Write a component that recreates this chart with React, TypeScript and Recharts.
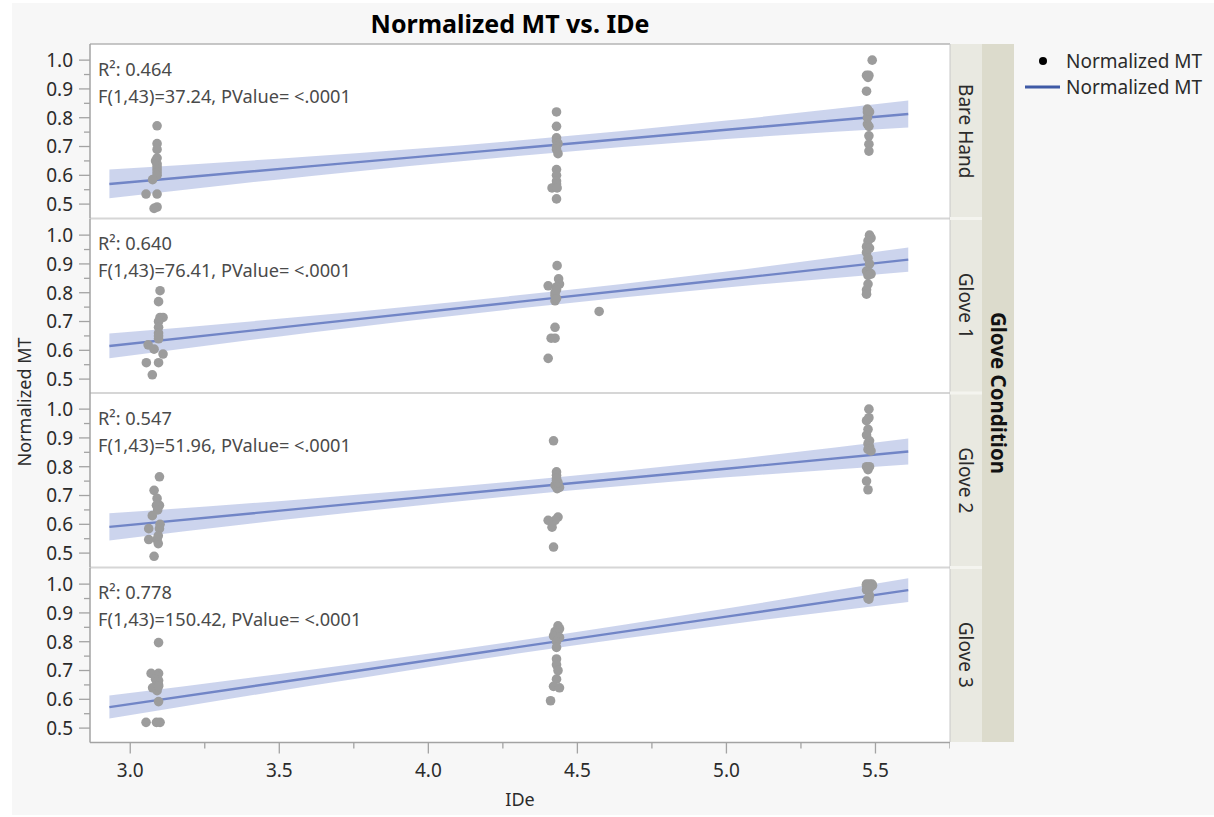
import { ComposedChart, Scatter, Line, Area, XAxis, YAxis } from "recharts";

// panel names and fit statistics
const panels = ["Bare Hand", "Glove 1", "Glove 2", "Glove 3"];
const r2Values = ["0.464", "0.640", "0.547", "0.778"];
const fValues = ["37.24", "76.41", "51.96", "150.42"];

const xMajorTicks = [3.0, 3.5, 4.0, 4.5, 5.0, 5.5];
const xMinorTicks = [3.25, 3.75, 4.25, 4.75, 5.25, 5.75];
const yMajorTicks = [0.5, 0.6, 0.7, 0.8, 0.9, 1.0];
const yMinorTicks = [0.55, 0.65, 0.75, 0.85, 0.95];

// fitted line + confidence band
const fitX = [2.93, 3.6, 4.3, 5.0, 5.61];
const bareHandFit = [0.57, 0.631, 0.694, 0.758, 0.813];
const bareHandLo = [0.52, 0.597, 0.667, 0.726, 0.766];
const bareHandHi = [0.62, 0.665, 0.721, 0.79, 0.86];
const glove1Fit = [0.615, 0.69, 0.768, 0.846, 0.915];
const glove1Lo = [0.572, 0.661, 0.745, 0.818, 0.873];
const glove1Hi = [0.658, 0.719, 0.791, 0.874, 0.957];
const glove2Fit = [0.591, 0.657, 0.725, 0.793, 0.853];
const glove2Lo = [0.544, 0.625, 0.7, 0.763, 0.808];
const glove2Hi = [0.638, 0.689, 0.75, 0.823, 0.898];
const glove3Fit = [0.573, 0.674, 0.781, 0.887, 0.979];
const glove3Lo = [0.533, 0.646, 0.759, 0.859, 0.938];
const glove3Hi = [0.613, 0.702, 0.803, 0.915, 1.02];

// [IDe, Normalized MT]
const bareHandPoints: [number, number][] = [
  [3.09, 0.772], [3.09, 0.71], [3.09, 0.69], [3.09, 0.66], [3.085, 0.65], [3.09, 0.64], [3.09, 0.63], [3.09, 0.62],
  [3.09, 0.61], [3.09, 0.6], [3.075, 0.585], [3.053, 0.535], [3.09, 0.535], [3.09, 0.49], [3.08, 0.485],
  [4.43, 0.82], [4.43, 0.77], [4.43, 0.73], [4.43, 0.72], [4.435, 0.71], [4.43, 0.7], [4.43, 0.69], [4.43, 0.62],
  [4.43, 0.6], [4.43, 0.58], [4.43, 0.57], [4.415, 0.556], [4.432, 0.556], [4.43, 0.518], [4.435, 0.675],
  [5.489, 1.0], [5.47, 0.947], [5.478, 0.947], [5.475, 0.94], [5.47, 0.892], [5.473, 0.83], [5.473, 0.82], [5.48, 0.82],
  [5.473, 0.8], [5.473, 0.778], [5.478, 0.77], [5.478, 0.737], [5.478, 0.708], [5.478, 0.684], [5.475, 0.825],
];
const glove1Points: [number, number][] = [
  [3.1, 0.807], [3.095, 0.769], [3.1, 0.714], [3.11, 0.714], [3.095, 0.7], [3.095, 0.68], [3.095, 0.66], [3.095, 0.64],
  [3.06, 0.619], [3.08, 0.604], [3.11, 0.587], [3.054, 0.557], [3.095, 0.557], [3.074, 0.515], [3.095, 0.65],
  [4.432, 0.894], [4.437, 0.848], [4.44, 0.83], [4.402, 0.824], [4.425, 0.8], [4.425, 0.79], [4.425, 0.772], [4.43, 0.82],
  [4.43, 0.78], [4.425, 0.68], [4.412, 0.642], [4.425, 0.642], [4.402, 0.572], [4.573, 0.735], [4.43, 0.81],
  [5.48, 1.0], [5.485, 0.99], [5.475, 0.98], [5.47, 0.96], [5.48, 0.955], [5.47, 0.94], [5.475, 0.92], [5.48, 0.9],
  [5.47, 0.875], [5.48, 0.87], [5.485, 0.865], [5.475, 0.86], [5.475, 0.83], [5.47, 0.81], [5.47, 0.795],
];
const glove2Points: [number, number][] = [
  [3.098, 0.765], [3.08, 0.718], [3.09, 0.69], [3.098, 0.666], [3.088, 0.666], [3.092, 0.65], [3.074, 0.63], [3.1, 0.6],
  [3.062, 0.585], [3.098, 0.585], [3.062, 0.547], [3.09, 0.547], [3.094, 0.533], [3.08, 0.489], [3.094, 0.56],
  [4.42, 0.89], [4.43, 0.782], [4.43, 0.77], [4.43, 0.753], [4.425, 0.736], [4.43, 0.73], [4.432, 0.724], [4.44, 0.728],
  [4.435, 0.745], [4.435, 0.625], [4.425, 0.614], [4.402, 0.614], [4.415, 0.59], [4.42, 0.521], [4.43, 0.76],
  [5.478, 1.0], [5.478, 0.97], [5.47, 0.96], [5.475, 0.93], [5.47, 0.91], [5.48, 0.89], [5.475, 0.88], [5.48, 0.87],
  [5.475, 0.86], [5.485, 0.855], [5.47, 0.8], [5.48, 0.8], [5.475, 0.79], [5.47, 0.75], [5.475, 0.72],
];
const glove3Points: [number, number][] = [
  [3.095, 0.797], [3.07, 0.69], [3.095, 0.69], [3.09, 0.68], [3.085, 0.67], [3.095, 0.665], [3.09, 0.66], [3.095, 0.65],
  [3.075, 0.64], [3.09, 0.63], [3.095, 0.592], [3.053, 0.52], [3.088, 0.52], [3.1, 0.52], [3.095, 0.645],
  [4.435, 0.855], [4.44, 0.845], [4.425, 0.835], [4.43, 0.83], [4.42, 0.82], [4.44, 0.815], [4.43, 0.8], [4.43, 0.78],
  [4.43, 0.74], [4.43, 0.72], [4.435, 0.7], [4.43, 0.67], [4.42, 0.645], [4.44, 0.64], [4.41, 0.595],
  [5.47, 1.0], [5.48, 1.0], [5.488, 1.0], [5.475, 0.998], [5.485, 0.998], [5.47, 0.995], [5.48, 0.995], [5.49, 0.995],
  [5.48, 0.993], [5.475, 0.99], [5.48, 0.985], [5.47, 0.98], [5.48, 0.96], [5.475, 0.95], [5.478, 0.948],
];

const panelPoints = [bareHandPoints, glove1Points, glove2Points, glove3Points];
const panelFits = [
  [bareHandFit, bareHandLo, bareHandHi],
  [glove1Fit, glove1Lo, glove1Hi],
  [glove2Fit, glove2Lo, glove2Hi],
  [glove3Fit, glove3Lo, glove3Hi],
];

const FONT = "'Noto Sans', 'Open Sans', sans-serif";
const AXIS_W = 90;
const CHART_W = 950;
const TOP = 44;
const PITCH = 174.5;
const XAXIS_H = 70;
const AXIS_COLOR = "#a3a3a3";
const TEXT = "#2b2b2b";

function YTick(props: any) {
  const { y, payload } = props;
  const v = payload.value as number;
  const major = yMajorTicks.some((t) => Math.abs(t - v) < 1e-6);
  return (
    <g>
      <line x1={AXIS_W - (major ? 11 : 6)} x2={AXIS_W} y1={y} y2={y} stroke={AXIS_COLOR} strokeWidth={1.3} />
      {major && (
        <text x={AXIS_W - 17} y={y} dy="0.36em" textAnchor="end" fontSize={19} fill={TEXT} fontFamily={FONT}>
          {v.toFixed(1)}
        </text>
      )}
    </g>
  );
}

function XTick(props: any) {
  const { x, payload } = props;
  const v = payload.value as number;
  const major = xMajorTicks.some((t) => Math.abs(t - v) < 1e-6);
  return (
    <g>
      <line x1={x} x2={x} y1={PITCH} y2={PITCH + (major ? 11 : 6)} stroke={AXIS_COLOR} strokeWidth={1.3} />
      {major && (
        <text x={x} y={PITCH + 28} dy="0.36em" textAnchor="middle" fontSize={19} fill={TEXT} fontFamily={FONT}>
          {v.toFixed(1)}
        </text>
      )}
    </g>
  );
}

function Panel({ index }: { index: number }) {
  const last = index === panels.length - 1;
  const [fit, lo, hi] = panelFits[index];
  const fitRows = fitX.map((x, k) => ({ x, fit: fit[k], band: [lo[k], hi[k]] }));
  const pts = panelPoints[index].map(([x, y]) => ({ x, y }));
  return (
    <div style={{ position: "absolute", left: 0, top: TOP + index * PITCH }}>
      <ComposedChart
        width={CHART_W}
        height={PITCH + (last ? XAXIS_H : 0)}
        data={fitRows}
        margin={{ top: 0, right: 0, bottom: 0, left: 0 }}
      >
        <XAxis
          dataKey="x"
          type="number"
          domain={[2.865, 5.75]}
          ticks={[...xMajorTicks, ...xMinorTicks].sort((a, b) => a - b)}
          interval={0}
          hide={!last}
          height={XAXIS_H}
          tickLine={false}
          tick={<XTick />}
          axisLine={{ stroke: AXIS_COLOR, strokeWidth: 1.5 }}
          allowDataOverflow
        />
        <YAxis
          type="number"
          domain={[0.45, 1.056]}
          ticks={[...yMajorTicks, ...yMinorTicks].sort((a, b) => a - b)}
          interval={0}
          width={AXIS_W}
          tickLine={false}
          tick={<YTick />}
          axisLine={{ stroke: AXIS_COLOR, strokeWidth: 1.5 }}
          allowDataOverflow
        />
        <Scatter
          data={pts}
          dataKey="y"
          isAnimationActive={false}
          shape={(p: any) => <circle cx={p.cx} cy={p.cy} r={4.8} fill="#9c9c9c" />}
        />
        <Area
          dataKey="band"
          type="monotone"
          stroke="none"
          fill="#8da0d8"
          fillOpacity={0.45}
          isAnimationActive={false}
          dot={false}
          activeDot={false}
        />
        <Line
          dataKey="fit"
          type="linear"
          stroke="#7185c6"
          strokeWidth={2.4}
          dot={false}
          activeDot={false}
          isAnimationActive={false}
        />
      </ComposedChart>
    </div>
  );
}

export default function App() {
  const plotH = PITCH * panels.length;
  return (
    <div
      style={{
        position: "absolute",
        left: 0,
        top: 0,
        width: 1214,
        height: 817,
        background: "#ffffff",
        fontFamily: FONT,
      }}
    >
      <svg width={1214} height={817} style={{ position: "absolute", left: 0, top: 0 }} fontFamily={FONT}>
        <rect x={12} y={3} width={1202} height={812} fill="#f7f7f7" />
        {/* plot frames */}
        <rect x={AXIS_W} y={TOP} width={CHART_W - AXIS_W} height={plotH} fill="#ffffff" />
        <line x1={AXIS_W} x2={CHART_W} y1={TOP} y2={TOP} stroke="#b4b4b4" strokeWidth={1.5} />
        {panels.slice(1).map((_, i) => (
          <line
            key={i}
            x1={AXIS_W}
            x2={1014}
            y1={TOP + (i + 1) * PITCH}
            y2={TOP + (i + 1) * PITCH}
            stroke="#d6d6d6"
            strokeWidth={2}
          />
        ))}
        {/* strips */}
        <rect x={CHART_W} y={TOP} width={32} height={plotH} fill="#e9e9e1" />
        <rect x={982} y={TOP} width={32} height={plotH} fill="#dcdbcc" />
        <line x1={CHART_W} x2={CHART_W} y1={TOP} y2={TOP + plotH} stroke="#c8c8c8" strokeWidth={1} />
        {panels.slice(1).map((_, i) => (
          <line
            key={i}
            x1={CHART_W}
            x2={982}
            y1={TOP + (i + 1) * PITCH}
            y2={TOP + (i + 1) * PITCH}
            stroke="#f4f4ef"
            strokeWidth={3}
          />
        ))}
        {panels.map((name, i) => (
          <text
            key={name}
            transform={`translate(966, ${TOP + i * PITCH + PITCH / 2}) rotate(90)`}
            textAnchor="middle"
            dy="0.36em"
            fontSize={19}
            fill={TEXT}
          >
            {name}
          </text>
        ))}
        <text
          transform={`translate(998, ${TOP + plotH / 2}) rotate(90)`}
          textAnchor="middle"
          dy="0.36em"
          fontSize={20.5}
          fontWeight="bold"
          fill="#111"
        >
          Glove Condition
        </text>
        {/* annotations */}
        {panels.map((name, i) => (
          <g key={name} fontSize={18.2} fill="#4a4a4a">
            <text x={98} y={TOP + i * PITCH + 25} dy="0.36em">
              R²: {r2Values[i]}
            </text>
            <text x={98} y={TOP + i * PITCH + 52} dy="0.36em">
              F(1,43)={fValues[i]}, PValue= &lt;.0001
            </text>
          </g>
        ))}
        {/* titles */}
        <text x={510} y={24} dy="0.36em" textAnchor="middle" fontSize={25} fontWeight="bold" fill="#000">
          Normalized MT vs. IDe
        </text>
        <text x={520} y={800} dy="0.36em" textAnchor="middle" fontSize={18} fill={TEXT}>
          IDe
        </text>
        <text transform="translate(25, 402) rotate(-90)" textAnchor="middle" dy="0.36em" fontSize={18} fill={TEXT}>
          Normalized MT
        </text>
        {/* legend */}
        <circle cx={1043} cy={61} r={4} fill="#000" />
        <text x={1066} y={61} dy="0.36em" fontSize={19} fill={TEXT}>
          Normalized MT
        </text>
        <line x1={1025} x2={1060} y1={87} y2={87} stroke="#3f5aa6" strokeWidth={3} />
        <text x={1066} y={87} dy="0.36em" fontSize={19} fill={TEXT}>
          Normalized MT
        </text>
      </svg>
      {panels.map((name, i) => (
        <Panel key={name} index={i} />
      ))}
    </div>
  );
}
